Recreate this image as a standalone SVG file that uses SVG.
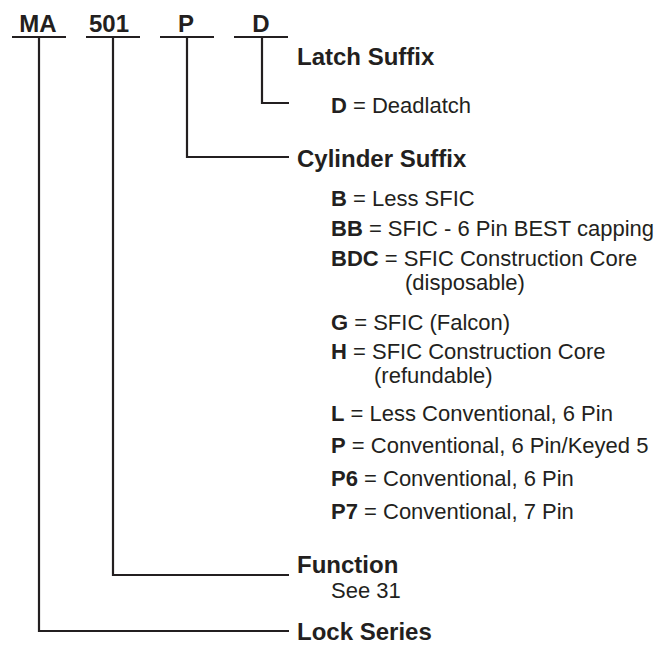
<svg xmlns="http://www.w3.org/2000/svg" width="670" height="647" viewBox="0 0 670 647">
<style>
text{font-family:"Liberation Sans",Arial,sans-serif;fill:#231f20}
.code{font-size:24px;font-weight:bold;text-anchor:middle}
.hd{font-size:24px;font-weight:bold}
.it{font-size:22px}
.it tspan.b{font-weight:bold}
.ln{fill:none;stroke:#231f20;stroke-width:2.2}
</style>
<rect width="670" height="647" fill="#fff"/>
<g id="connectors">
<path class="ln" d="M12,37H66M86,37H140M160,37H214M234,37H288"/>
<path class="ln" d="M262,37V103H289"/>
<path class="ln" d="M187,37V157H289"/>
<path class="ln" d="M113,37V575H289"/>
<path class="ln" d="M39,37V631H289"/>
</g>
<g id="code-MA"><text class="code" x="38" y="32">MA</text></g>
<g id="code-501"><text class="code" x="109" y="32">501</text></g>
<g id="code-P"><text class="code" x="186" y="32">P</text></g>
<g id="code-D"><text class="code" x="261" y="32">D</text></g>
<g id="latch-suffix">
<text class="hd" x="297" y="65">Latch Suffix</text>
<text class="it" x="331" y="113"><tspan class="b">D</tspan> = Deadlatch</text>
</g>
<g id="cylinder-suffix">
<text class="hd" x="297" y="167">Cylinder Suffix</text>
<text class="it" x="331" y="206"><tspan class="b">B</tspan> = Less SFIC</text>
<text class="it" x="331" y="236"><tspan class="b">BB</tspan> = SFIC - 6 Pin BEST capping</text>
<text class="it" x="331" y="266"><tspan class="b">BDC</tspan> = SFIC Construction Core</text>
<text class="it" x="405" y="290">(disposable)</text>
<text class="it" x="331" y="330"><tspan class="b">G</tspan> = SFIC (Falcon)</text>
<text class="it" x="331" y="359"><tspan class="b">H</tspan> = SFIC Construction Core</text>
<text class="it" x="374" y="383">(refundable)</text>
<text class="it" x="331" y="421"><tspan class="b">L</tspan> = Less Conventional, 6 Pin</text>
<text class="it" x="331" y="453"><tspan class="b">P</tspan> = Conventional, 6 Pin/Keyed 5</text>
<text class="it" x="331" y="486"><tspan class="b">P6</tspan> = Conventional, 6 Pin</text>
<text class="it" x="331" y="519"><tspan class="b">P7</tspan> = Conventional, 7 Pin</text>
</g>
<g id="function">
<text class="hd" x="297" y="573">Function</text>
<text class="it" x="331" y="598">See 31</text>
</g>
<g id="lock-series">
<text class="hd" x="297" y="640">Lock Series</text>
</g>
</svg>
